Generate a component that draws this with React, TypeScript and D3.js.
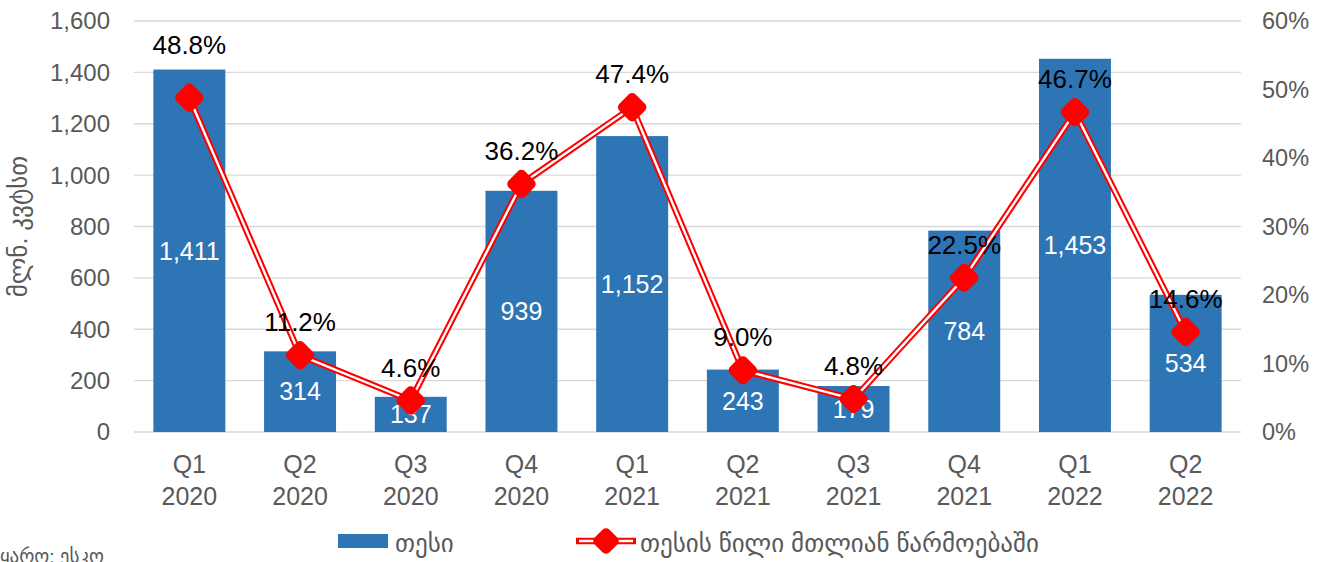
import React from 'react';
import * as d3 from 'd3';

// quarters and years (two-line x labels)
const quarters = ['Q1', 'Q2', 'Q3', 'Q4', 'Q1', 'Q2', 'Q3', 'Q4', 'Q1', 'Q2'];
const years = ['2020', '2020', '2020', '2020', '2021', '2021', '2021', '2021', '2022', '2022'];
// generation, mln kWh
const generation = [1411, 314, 137, 939, 1152, 243, 179, 784, 1453, 534];
// share in total generation, %
const share = [48.8, 11.2, 4.6, 36.2, 47.4, 9.0, 4.8, 22.5, 46.7, 14.6];

const leftTicks = [0, 200, 400, 600, 800, 1000, 1200, 1400, 1600];
const rightTicks = [0, 10, 20, 30, 40, 50, 60];

const yTitle = 'მლნ. კვტსთ';
const barLegend = 'თესი';
const lineLegend = 'თესის წილი მთლიან წარმოებაში';
const source = 'წყარო: ესკო';

const W = 1333;
const H = 562;
const FONT = 'Arial, "Liberation Sans", "DejaVu Sans", sans-serif';
const BLUE = '#2e75b6';
const RED = '#ff0000';
const GRAY = '#595959';

const Diamond = ({ x, y, s }: { x: number; y: number; s: number }) => (
  <rect
    x={-s / 2}
    y={-s / 2}
    width={s}
    height={s}
    rx={5}
    fill={RED}
    transform={`translate(${x},${y}) rotate(45)`}
  />
);

export default function App() {
  const margin = { top: 21, right: 92, bottom: 130, left: 134 };
  const x0 = margin.left;
  const x1 = W - margin.right;
  const yBottom = H - margin.bottom;

  const x = d3.scaleBand<number>()
    .domain(d3.range(generation.length))
    .range([x0, x1])
    .paddingInner(0.35)
    .paddingOuter(0.175);

  const y = d3.scaleLinear().domain([0, 1600]).range([yBottom, margin.top]);
  const y2 = d3.scaleLinear().domain([0, 60]).range([yBottom, margin.top]);

  const fmt = d3.format(',');
  const cx = (i: number) => (x(i) as number) + x.bandwidth() / 2;

  const line = d3.line<number>()
    .x((_, i) => cx(i))
    .y(d => y2(d));
  const path = line(share) || '';

  // label above marker; first one was lifted clear of its bar
  const labelY = (v: number, i: number) => y2(v) - 33 - (i === 0 ? 20 : 0);

  return (
    <svg width={W} height={H} style={{ position: 'absolute', left: 0, top: 0 }} fontFamily={FONT}>
      <rect width={W} height={H} fill="#fff" />

      {/* gridlines */}
      {leftTicks.map(t => (
        <line key={t} x1={x0} x2={x1} y1={y(t)} y2={y(t)} stroke="#d9d9d9" strokeWidth={1.3} />
      ))}

      {/* left axis labels */}
      {leftTicks.map(t => (
        <text key={t} x={x0 - 24} y={y(t)} dy="0.35em" textAnchor="end" fontSize={24} fill={GRAY}>
          {fmt(t)}
        </text>
      ))}

      {/* right axis labels */}
      {rightTicks.map(t => (
        <text key={t} x={x1 + 21} y={y2(t)} dy="0.35em" textAnchor="start" fontSize={23.5} fill={GRAY}>
          {t}%
        </text>
      ))}

      {/* y title */}
      <text
        transform={`translate(27,${(y(0) + y(1600)) / 2}) rotate(-90)`}
        textAnchor="middle"
        fontSize={25}
        fill={GRAY}
      >
        {yTitle}
      </text>

      {/* bars */}
      {generation.map((v, i) => (
        <rect key={i} x={x(i)} y={y(v)} width={x.bandwidth()} height={y(0) - y(v)} fill={BLUE} />
      ))}

      {/* bar value labels */}
      {generation.map((v, i) => (
        <text
          key={i}
          x={cx(i)}
          y={(y(v) + y(0)) / 2}
          dy="0.35em"
          textAnchor="middle"
          fontSize={25}
          fill="#fff"
        >
          {fmt(v)}
        </text>
      ))}

      {/* share line: red with white core */}
      <path d={path} fill="none" stroke={RED} strokeWidth={6.5} strokeLinejoin="round" />
      <path d={path} fill="none" stroke="#fff" strokeWidth={2.4} strokeLinejoin="round" />

      {share.map((v, i) => (
        <Diamond key={i} x={cx(i)} y={y2(v)} s={23} />
      ))}

      {/* share labels */}
      {share.map((v, i) => (
        <text
          key={i}
          x={cx(i)}
          y={labelY(v, i)}
          dy="0.35em"
          textAnchor="middle"
          fontSize={26}
          fill="#000"
        >
          {v.toFixed(1)}%
        </text>
      ))}

      {/* x labels */}
      {quarters.map((q, i) => (
        <g key={i}>
          <text x={cx(i)} y={yBottom + 32} dy="0.35em" textAnchor="middle" fontSize={25} fill={GRAY}>
            {q}
          </text>
          <text x={cx(i)} y={yBottom + 64} dy="0.35em" textAnchor="middle" fontSize={25} fill={GRAY}>
            {years[i]}
          </text>
        </g>
      ))}

      {/* legend */}
      <rect x={338} y={534} width={50} height={14} fill={BLUE} />
      <text x={395} y={543} dy="0.35em" fontSize={25} fill={GRAY}>{barLegend}</text>

      <line x1={576} x2={636} y1={541} y2={541} stroke={RED} strokeWidth={6.5} />
      <line x1={579} x2={633} y1={541} y2={541} stroke="#fff" strokeWidth={2.4} />
      <Diamond x={606} y={541} s={21} />
      <text x={640} y={543} dy="0.35em" fontSize={25} fill={GRAY}>{lineLegend}</text>

      {/* source, partly outside the picture on the left as in the original */}
      <text x={104} y={556} dy="0.35em" textAnchor="end" fontSize={19} fill={GRAY}>{source}</text>
    </svg>
  );
}
